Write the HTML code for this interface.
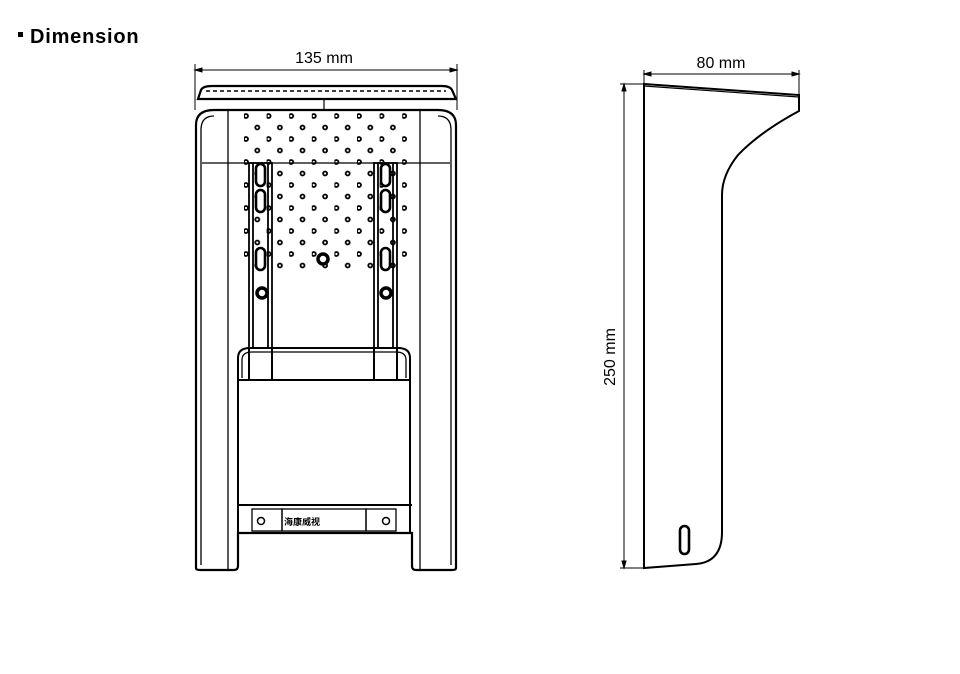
<!DOCTYPE html>
<html><head><meta charset="utf-8"><style>
body{margin:0;background:#fff;width:960px;height:674px;overflow:hidden}
svg{position:absolute;left:0;top:0}
.t{font-family:"Liberation Sans",sans-serif}
</style></head><body>
<svg width="960" height="674" viewBox="0 0 960 674">
<defs>
<pattern id="dots" x="244" y="113" width="22.6" height="23" patternUnits="userSpaceOnUse">
<circle cx="2" cy="3" r="2" fill="none" stroke="#000" stroke-width="1.8"/>
<circle cx="13.3" cy="14.5" r="2" fill="none" stroke="#000" stroke-width="1.8"/>
</pattern>
</defs>
<rect x="18" y="32" width="5" height="5" fill="#000"/>
<text x="30" y="43" class="t" font-size="20" font-weight="bold" letter-spacing="0.8">Dimension</text>

<!-- front dims -->
<text x="324" y="63" class="t" font-size="16" text-anchor="middle">135 mm</text>
<g stroke="#000" stroke-width="1" fill="none">
<line x1="195" y1="70" x2="457" y2="70"/>
<line x1="195" y1="64" x2="195" y2="110"/>
<line x1="457" y1="64" x2="457" y2="110"/>
<path d="M195 70 l7 -2 v4z M457 70 l-7 -2 v4z" fill="#000"/>
</g>

<!-- front body -->
<g stroke="#000" fill="none" stroke-width="2.2">
<path d="M198 99 L201 90 Q203 86 212 86 L442 86 Q450 86 452 90 L456 99 Z"/>
<line x1="206" y1="91" x2="446" y2="91" stroke-width="1.6" stroke-dasharray="4 3"/>
<line x1="324" y1="99" x2="324" y2="110" stroke-width="1.2"/>
<path d="M196 568 L196 125 Q196 110 214 110 L438 110 Q456 110 456 125 L456 568 Q456 570 452 570 L416 570 Q412 570 412 566 L412 533 L238 533 L238 566 Q238 570 234 570 L200 570 Q196 570 196 568 Z"/>
<path d="M201 565 L201 130 Q201 116 214 116" stroke-width="1.3"/>
<path d="M451 565 L451 130 Q451 116 438 116" stroke-width="1.3"/>
<line x1="228" y1="110" x2="228" y2="570" stroke-width="1.3"/>
<line x1="420" y1="110" x2="420" y2="570" stroke-width="1.3"/>
<line x1="202" y1="163" x2="450" y2="163" stroke-width="1.3"/>
</g>
<rect x="242" y="113" width="165" height="157" fill="url(#dots)"/>
<!-- rails -->
<g stroke="#000" fill="#fff" stroke-width="1.8">
<rect x="249" y="163" width="23" height="217" fill="none"/>
<line x1="253" y1="163" x2="253" y2="380"/>
<line x1="268" y1="163" x2="268" y2="380"/>
<rect x="374" y="163" width="23" height="217" fill="none"/>
<line x1="378" y1="163" x2="378" y2="380"/>
<line x1="393" y1="163" x2="393" y2="380"/>
<rect x="256" y="164" width="9" height="22" rx="4.5" stroke-width="2.6"/>
<rect x="256" y="190" width="9" height="22" rx="4.5" stroke-width="2.6"/>
<rect x="256" y="248" width="9" height="22" rx="4.5" stroke-width="2.6"/>
<rect x="381" y="164" width="9" height="22" rx="4.5" stroke-width="2.6"/>
<rect x="381" y="190" width="9" height="22" rx="4.5" stroke-width="2.6"/>
<rect x="381" y="248" width="9" height="22" rx="4.5" stroke-width="2.6"/>
<circle cx="262" cy="293" r="5" stroke-width="3.5"/>
<circle cx="386" cy="293" r="5" stroke-width="3.5"/>
<circle cx="323" cy="259" r="5" stroke-width="3.5"/>
</g>
<!-- lower pocket -->
<g stroke="#000" fill="none" stroke-width="2">
<path d="M238 380 L238 358 Q238 348 250 348 L398 348 Q410 348 410 358 L410 380 Z" fill="#fff"/>
<path d="M242 378 L242 360 Q242 352 252 352 L396 352 Q406 352 406 360 L406 378" stroke-width="1.3"/>
<line x1="249" y1="348" x2="249" y2="380"/><line x1="272" y1="348" x2="272" y2="380"/>
<line x1="374" y1="348" x2="374" y2="380"/><line x1="397" y1="348" x2="397" y2="380"/>
<line x1="238" y1="380" x2="238" y2="533"/><line x1="410" y1="380" x2="410" y2="533"/>
<line x1="238" y1="505" x2="412" y2="505"/>
<rect x="252" y="509" width="30" height="22" stroke-width="1.3"/>
<rect x="366" y="509" width="30" height="22" stroke-width="1.3"/>
<rect x="282" y="509" width="84" height="22" stroke-width="1.3"/>
<circle cx="261" cy="521" r="3.5" stroke-width="1.5"/>
<circle cx="386" cy="521" r="3.5" stroke-width="1.5"/>
</g>
<text x="284" y="525" font-family="Liberation Sans,'Noto Sans CJK SC',sans-serif" font-size="9" font-weight="bold">海康威视</text>

<!-- side view -->
<text x="0" y="0" class="t" font-size="16" text-anchor="middle" transform="translate(615,357) rotate(-90)">250 mm</text>
<text x="721" y="68" class="t" font-size="16" text-anchor="middle">80 mm</text>
<g stroke="#000" fill="none" stroke-width="1">
<line x1="644" y1="74" x2="799" y2="74"/>
<line x1="644" y1="70" x2="644" y2="86"/>
<line x1="799" y1="70" x2="799" y2="96"/>
<path d="M644 74 l7 -2 v4z M799 74 l-7 -2 v4z" fill="#000"/>
<line x1="624" y1="84" x2="624" y2="568"/>
<line x1="620" y1="84" x2="644" y2="84"/>
<line x1="620" y1="568" x2="644" y2="568"/>
<path d="M624 84 l-2 7 h4z M624 568 l-2 -7 h4z" fill="#000"/>
</g>
<g stroke="#000" fill="none" stroke-width="2">
<path d="M644 84 L799 95 L799 111 Q760 132 738 155 Q722 175 722 195 L722 532 Q722 562 696 564 L644 568 Z"/>
<line x1="644" y1="86" x2="799" y2="97" stroke-width="1.2"/>
<rect x="680" y="526" width="9" height="28" rx="4.5" stroke-width="2.6"/>
</g>
</svg>
</body></html>
